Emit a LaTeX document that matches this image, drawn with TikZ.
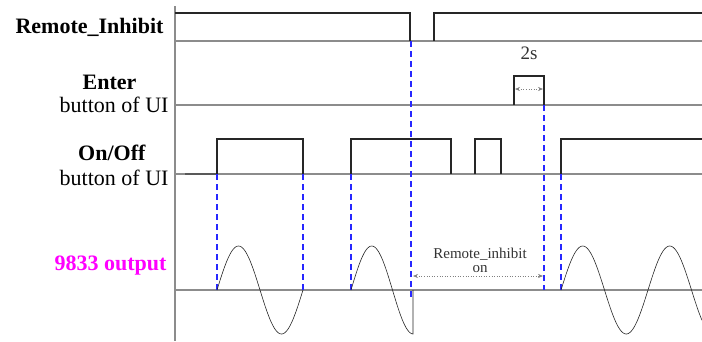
\documentclass[tikz,border=0pt]{standalone}
\usepackage{fontspec}
\setmainfont{Liberation Serif}
\usetikzlibrary{positioning,arrows.meta}
\definecolor{outmag}{RGB}{255,0,255}
\definecolor{guideblue}{RGB}{40,40,255}

\begin{document}
\begin{tikzpicture}[
  x=1pt, y=-1pt,
  >=Stealth,
  baseln/.style={draw=black!45, line width=1.1pt},
  sig/.style={draw=black!85, line width=1.2pt},
  wave/.style={draw=black!85, line width=0.6pt},
  guide/.style={draw=guideblue, line width=1.3pt, dash pattern=on 6pt off 4pt},
  span/.style={{Stealth[length=5pt,width=4pt]}-{Stealth[length=5pt,width=4pt]},
    draw=black!50, line width=0.6pt, dotted},
  siglbl/.style={font=\fontsize{22}{24}\selectfont\bfseries, anchor=east},
  sublbl/.style={font=\fontsize{22}{24}\selectfont, anchor=east},
  notelbl/.style={font=\fontsize{15}{17}\selectfont, text=black!80, align=center}
]
\useasboundingbox (0,0) rectangle (702,341);

% axis
\draw[draw=black!45, line width=1.3pt] (175,6) -- (175,341);

% labels
\node[siglbl] (riLbl) at (167,27) {Remote\_Inhibit};
\node[siglbl] (enLbl) at (140,82) {Enter};
\node[sublbl] (enSub) at (172,105) {button of UI};
\node[siglbl] (ooLbl) at (149,153) {On/Off};
\node[sublbl] (ooSub) at (172,178) {button of UI};
\node[siglbl, text=outmag] (outLbl) at (170,266) {9833 output};

% baselines
\foreach \yb in {41,105,174,290}
  \draw[baseln] (175,\yb) -- (702,\yb);
\draw[sig, draw=black!65] (185,174) -- (217,174);

% Remote_Inhibit
\draw[sig] (175,13) -- (410,13) -- (410,41);
\draw[sig] (434,41) -- (434,13) -- (702,13);

% Enter
\coordinate (enA) at (514,105);
\coordinate (enB) at (544,105);
\draw[sig] (enA) -- (514,76) -- (544,76) -- (enB);
\draw[span] (515,89) -- (543,89);
\node[notelbl, font=\fontsize{19}{21}\selectfont] (twoS) at (529,53) {2s};

% On/Off
\foreach \xa/\xb in {217/303,351/451,475/501}
  \draw[sig] (\xa,174) -- (\xa,139) -- (\xb,139) -- (\xb,174);
\draw[sig] (561,174) -- (561,139) -- (702,139);

% guides
\foreach \xg in {217,303,351,561}
  \draw[guide] (\xg,174) -- (\xg,290);
\draw[guide] (411,41) -- (411,298);
\draw[guide] (enB) -- (544,290);

% 9833 output
\draw[wave] plot[domain=217:303, samples=70] (\x,{290-44*sin((\x-217)/86*360)});
\draw[wave] plot[domain=351:413, samples=60] (\x,{290-44*sin((\x-351)/83*360)}) -- (413,290);
\draw[wave] plot[domain=561:702, samples=110] (\x,{290-44*sin((\x-561)/87*360)});

% Remote_inhibit on
\node[notelbl] (riOn) at (480,260) {Remote\_inhibit\\[-3pt]on};
\draw[span] (413,276) -- (543,276);

\end{tikzpicture}
\end{document}
